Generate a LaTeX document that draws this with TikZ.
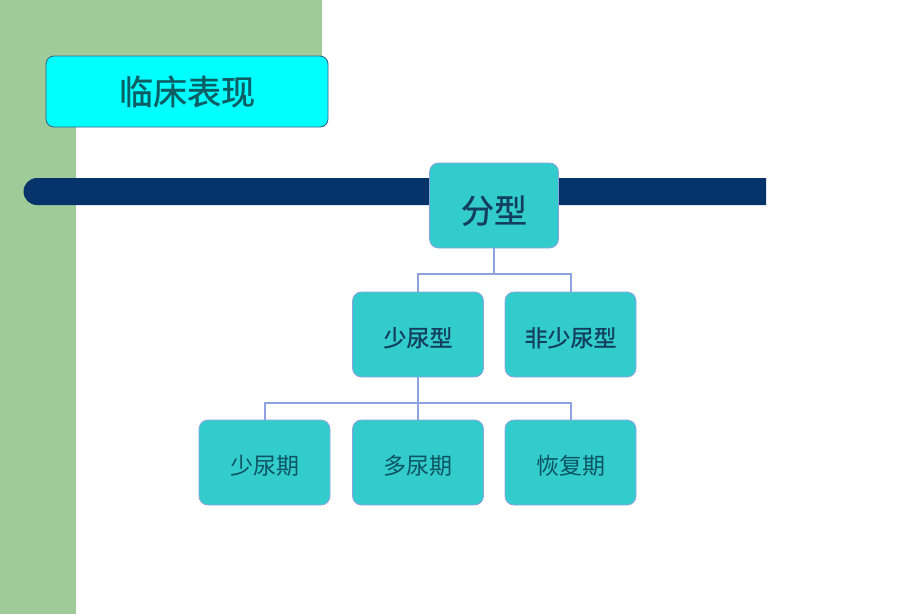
\documentclass[tikz,border=0pt]{standalone}
\usepackage{fontspec}
\usepackage{xcolor}
\usepackage{tikz}
\usetikzlibrary{positioning,calc}
\newfontfamily\cjk{Noto Sans CJK SC}
\newfontfamily\cjkb[FakeBold=1.0]{Noto Sans CJK SC}
\definecolor{cGreen}{HTML}{9FCB98}
\definecolor{cNavy}{HTML}{06336A}
\definecolor{cCyan}{HTML}{00FFFF}
\definecolor{cTurq}{HTML}{33CCCC}
\definecolor{cEdge}{HTML}{8EA2E0}
\definecolor{cInk}{HTML}{123F5E}
\definecolor{cTeal}{HTML}{0B5E64}
\tikzset{
  tbox/.style={draw=cEdge,fill=cTurq,rounded corners=9pt,line width=0.8pt,minimum width=131pt,minimum height=85pt,inner sep=0pt,font=\cjk\fontsize{23}{27}\selectfont,text=cInk,text height=24pt,text depth=0pt},
  conn/.style={draw=cEdge,line width=2pt},
}
\begin{document}
\begin{tikzpicture}[x=1pt,y=-1pt]
  \useasboundingbox (0,0) rectangle (920,614);
  % background bands
  \fill[cGreen] (0,0) rectangle (322,127);
  \fill[cGreen] (0,0) rectangle (76,614);
  \fill[cNavy] (766,178) -- (37,178) arc[start angle=270,end angle=90,radius=13.5] -- (766,205) -- cycle;
  % title
  \node[draw=cNavy!80,fill=cCyan,rounded corners=8pt,line width=0.8pt,minimum width=282pt,minimum height=71pt,inner sep=0pt,font=\cjkb\fontsize{34}{38}\selectfont,text=cTeal] (title) at (187,91.5) {临床表现};
  % tree
  \node[tbox,minimum width=129pt,font=\cjkb\fontsize{33}{36}\selectfont,text height=35pt] (fenxing) at (494,205.5) {分型};
  \node[tbox,font=\cjkb\fontsize{23}{26}\selectfont] (shaoniao) at (418,334.5) {少尿型};
  \node[tbox,font=\cjkb\fontsize{23}{26}\selectfont] (feishao) at (570.5,334.5) {非少尿型};
  \node[tbox,text=cTeal!70!cInk] (qi1) at (264.5,462.5) {少尿期};
  \node[tbox,text=cTeal!70!cInk] (qi2) at (418,462.5) {多尿期};
  \node[tbox,text=cTeal!70!cInk] (qi3) at (570.5,462.5) {恢复期};
  \coordinate (j1) at (494,274);
  \coordinate (j2) at (418,403);
  \draw[conn] (fenxing.south) -- (j1);
  \draw[conn] (shaoniao.north) |- (j1) -| (feishao.north);
  \draw[conn] (shaoniao.south) -- (qi2.north);
  \draw[conn] (qi1.north) |- (j2) -| (qi3.north);
\end{tikzpicture}
\end{document}
